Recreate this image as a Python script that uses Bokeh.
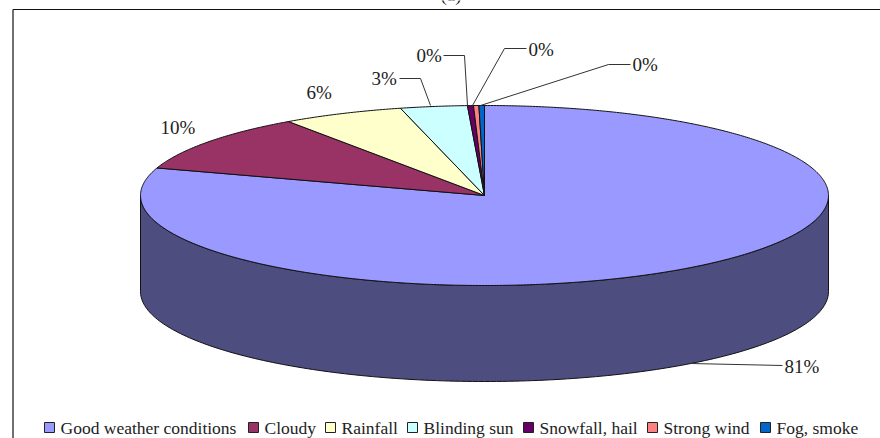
import numpy as np
from bokeh.plotting import figure
from bokeh.embed import file_html
from bokeh.resources import INLINE
from bokeh.core.properties import value

categories = ["Good weather conditions", "Cloudy", "Rainfall", "Blinding sun", "Snowfall, hail", "Strong wind", "Fog, smoke"]
shares = [79.95, 10.4, 5.72, 3.14, 0.28, 0.25, 0.26]
labels = ["81%", "10%", "6%", "3%", "0%", "0%", "0%"]
colors = ["#9999FF", "#993366", "#FFFFCC", "#CCFFFF", "#660066", "#FF8080", "#0066CC"]
side_color = "#4D4D80"

FONT = "Liberation Serif"
TXT = "#222222"
cx, cy, rx, ry, depth = 484, 195, 344, 90, 96

label_x = [784, 160, 306, 371, 416, 528, 632]
label_y = [366, 127, 92, 78, 55, 49, 64]
leader_x = [[690, 782], None, None, [399, 420, 430], [443, 464, 467], [472, 504, 526], [480, 608, 630]]
leader_y = [[363, 365], None, None, [78, 78, 105], [55, 55, 105], [105, 48, 48], [105, 64, 64]]
key_x = [44, 248, 325, 407, 523, 647, 760]
legend_y = 427

p = figure(width=880, height=438, x_range=(0, 880), y_range=(438, 0),
           output_backend="svg", toolbar_location=None, min_border=0,
           outline_line_color=None)
p.axis.visible = False
p.grid.visible = False

# chart frame
p.line([12.5, 12.5], [438, 9], line_color="#111111", line_width=1.2)
p.line([12.5, 880], [9, 9], line_color="#111111", line_width=1.2)

def point(t):
    a = 2 * np.pi * t
    return cx + rx * np.sin(a), cy - ry * np.cos(a)

# side wall (front half of the rim)
t = np.linspace(0.25, 0.75, 181)
xs, ys = point(t)
p.patch(np.r_[xs, xs[::-1]], np.r_[ys + depth, ys[::-1]], fill_color=side_color,
        line_color="#111111", line_width=1)

# top slices
edges = np.cumsum([0] + shares) / sum(shares)
for start, end, color in zip(edges[:-1], edges[1:], colors):
    t = np.linspace(start, end, max(3, int((end - start) * 720)))
    xs, ys = point(t)
    p.patch(np.r_[cx, xs], np.r_[cy, ys], fill_color=color, line_color="#111111", line_width=1)

# leaders and data labels
for lx, ly in zip(leader_x, leader_y):
    if lx:
        p.line(lx, ly, line_color="#333333", line_width=1)
p.text(label_x, label_y, text=labels, text_font=value(FONT), text_font_size="19px",
       text_color=TXT, text_baseline="middle", text_align="left")

# legend
p.rect([k + 5 for k in key_x], [legend_y] * 7, width=10, height=10, fill_color=colors,
       line_color="#222222", line_width=1)
p.text([k + 16 for k in key_x], [legend_y] * 7, text=categories, text_font=value(FONT),
       text_font_size="17.5px", text_color=TXT, text_baseline="middle", text_align="left")

# caption of the source figure, cut by the top edge as in the reference
p.text([440], [-6], text=["(a)"], text_font=value(FONT), text_font_size="19px",
       text_color=TXT, text_baseline="middle", text_align="left")

open("out.html", "w").write(file_html(p, INLINE))
